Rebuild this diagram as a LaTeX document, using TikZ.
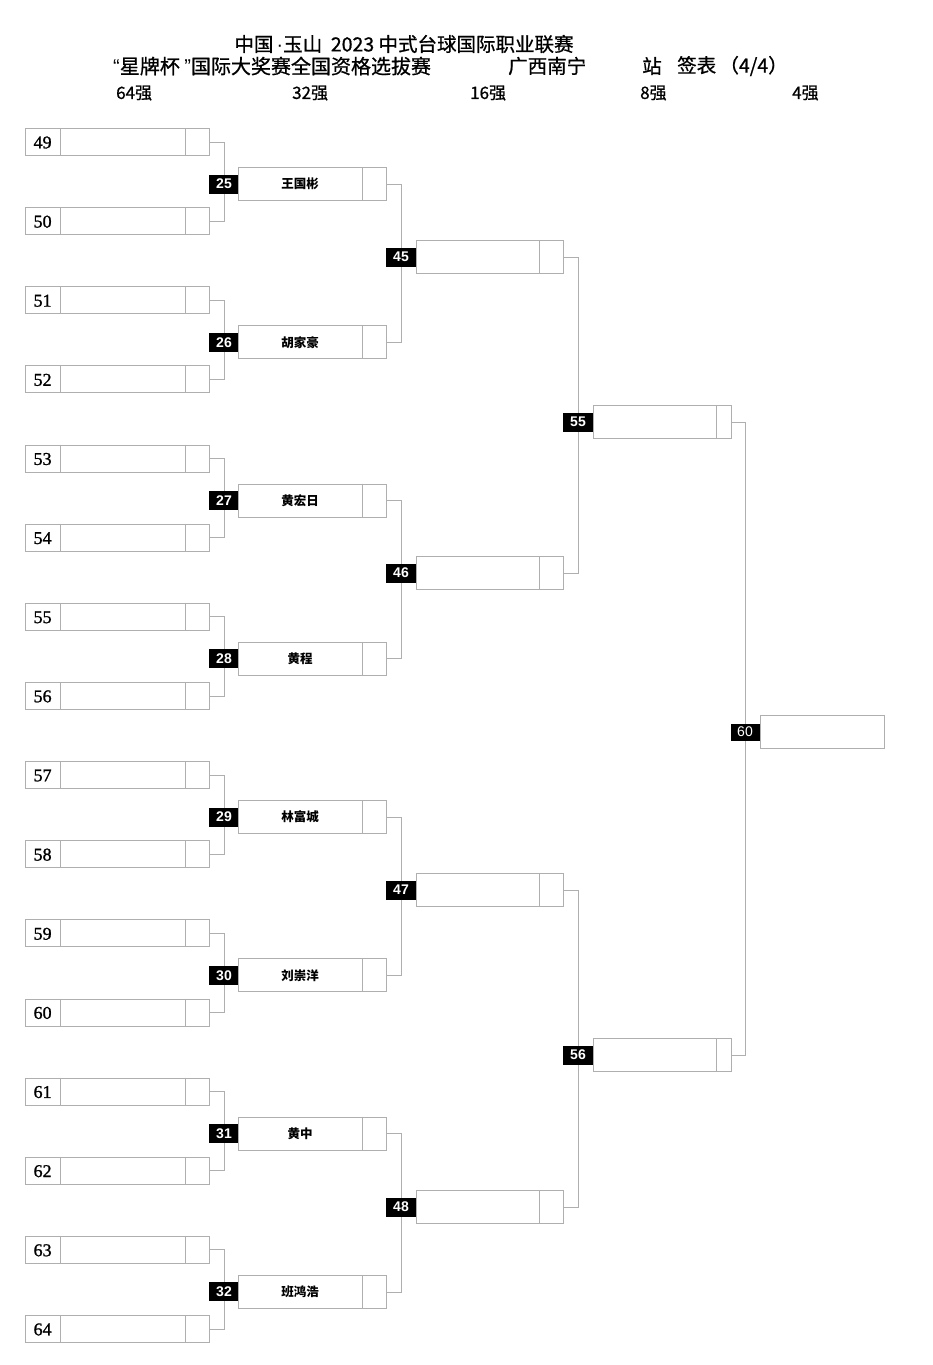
\documentclass[tikz,border=0pt]{standalone}
\usepackage{fontspec}
\setmainfont[FakeBold=1.2]{Liberation Serif}
\newfontfamily\cjk{Noto Sans CJK SC}
\newfontfamily\cjkh[FakeBold=0.8]{Noto Sans CJK SC}
\newfontfamily\labfont{Liberation Sans}
\definecolor{boxgray}{RGB}{175,175,175}
\pgfdeclarelayer{paper}
\pgfdeclarelayer{lines}
\pgfsetlayers{paper,lines,main}
\begin{document}
\begin{tikzpicture}[x=1pt,y=-1pt,
  box/.style={draw=boxgray,line width=0.8pt,inner sep=0pt,minimum height=33pt},
  conn/.style={draw=boxgray,line width=0.8pt},
  lab/.style={fill=black,text=white,inner sep=0pt,minimum width=30pt,minimum height=19pt,font=\labfont\bfseries\fontsize{14}{14}\selectfont},
  numt/.style={inner sep=0pt,font=\fontsize{18}{18}\selectfont},
  namet/.style={inner sep=0pt,font=\cjk\bfseries\fontsize{12.5}{13}\selectfont},
  head/.style={inner sep=0pt,font=\cjkh\fontsize{19.5}{20}\selectfont},
  rnd/.style={inner sep=0pt,anchor=west,font=\cjkh\fontsize{17}{18}\selectfont}]
\begin{pgfonlayer}{paper}
\fill[white] (0,0) rectangle (932,1365);
\end{pgfonlayer}
\useasboundingbox (0,0) rectangle (932,1365);

% header
\node[head] (h1) at (404,44) {中国\,{\labfont\fontsize{19.5}{20}\selectfont ·}玉山\ \ 2023 中式台球国际职业联赛};
\node[head,anchor=west,font=\cjkh\fontsize{20}{20}\selectfont] (h2) at (113,66) {{\labfont “}星牌杯 {\labfont ”}国际大奖赛全国资格选拔赛};
\node[head,anchor=west] (h3) at (508,66) {广西南宁};
\node[head,anchor=west] (h4) at (642,66) {站};
\node[head,anchor=west] (h5) at (677,66) {签表\,（4/4）};
\node[rnd] (r64) at (116,93) {64强};
\node[rnd] (r32) at (292,93) {32强};
\node[rnd] (r16) at (470,93) {16强};
\node[rnd] (r8) at (640,93) {8强};
\node[rnd] (r4) at (792,93) {4强};

% round of 64
\foreach \i in {0,...,15}{
  \pgfmathtruncatemacro\n{49+\i}
  \pgfmathsetmacro\yy{142+79.13*\i}
  \node[box,minimum width=184pt,minimum height=27pt] (p\n) at (117,\yy) {};
  \draw[conn] ([xshift=36pt]p\n.north west) -- ([xshift=36pt]p\n.south west);
  \draw[conn] ([xshift=-24pt]p\n.north east) -- ([xshift=-24pt]p\n.south east);
  \node[numt] (t\n) at ([xshift=18pt,yshift=-0.5pt]p\n.west) {\n};
}

% round of 32
\foreach \n/\nm [count=\k from 0] in {25/王国彬,26/胡家豪,27/黄宏日,28/黄程,29/林富城,30/刘崇洋,31/黄中,32/班鸿浩}{
  \pgfmathsetmacro\yy{184+158.27*\k}
  \node[lab] (m\n) at (224,\yy) {\n};
  \node[box,minimum width=148pt] (w\n) at (312,\yy) {};
  \draw[conn] ([xshift=-24pt]w\n.north east) -- ([xshift=-24pt]w\n.south east);
  \node[namet] (nm\n) at ([xshift=-12pt]w\n.center) {\nm};
}

% round of 16
\foreach \n/\yy in {45/257,46/573,47/890,48/1207}{
  \node[lab] (m\n) at (401,\yy) {\n};
  \node[box,minimum width=147pt] (q\n) at (489.5,\yy) {};
  \draw[conn] ([xshift=-24pt]q\n.north east) -- ([xshift=-24pt]q\n.south east);
}

% round of 8
\foreach \n/\yy in {55/422,56/1055}{
  \node[lab] (m\n) at (578,\yy) {\n};
  \node[box,minimum width=138pt] (s\n) at (662,\yy) {};
  \draw[conn] ([xshift=-15pt]s\n.north east) -- ([xshift=-15pt]s\n.south east);
}

% round of 4
\node[lab,font=\labfont\fontsize{14}{14}\selectfont,minimum width=29pt,minimum height=17pt] (m60) at (745,732) {60};
\node[box,minimum width=124pt] (f60) at (822,732) {};

% connectors
\begin{pgfonlayer}{lines}
\foreach \k in {0,...,7}{
  \pgfmathtruncatemacro\a{49+2*\k}
  \pgfmathtruncatemacro\b{50+2*\k}
  \pgfmathtruncatemacro\c{25+\k}
  \draw[conn] (p\a.east) -| (m\c.center);
  \draw[conn] (p\b.east) -| (m\c.center);
}
\foreach \k in {0,...,3}{
  \pgfmathtruncatemacro\a{25+2*\k}
  \pgfmathtruncatemacro\b{26+2*\k}
  \pgfmathtruncatemacro\c{45+\k}
  \draw[conn] (w\a.east) -| (m\c.center);
  \draw[conn] (w\b.east) -| (m\c.center);
}
\draw[conn] (q45.east) -| (m55.center);
\draw[conn] (q46.east) -| (m55.center);
\draw[conn] (q47.east) -| (m56.center);
\draw[conn] (q48.east) -| (m56.center);
\draw[conn] (s55.east) -| (m60.center);
\draw[conn] (s56.east) -| (m60.center);
\end{pgfonlayer}
\end{tikzpicture}
\end{document}
